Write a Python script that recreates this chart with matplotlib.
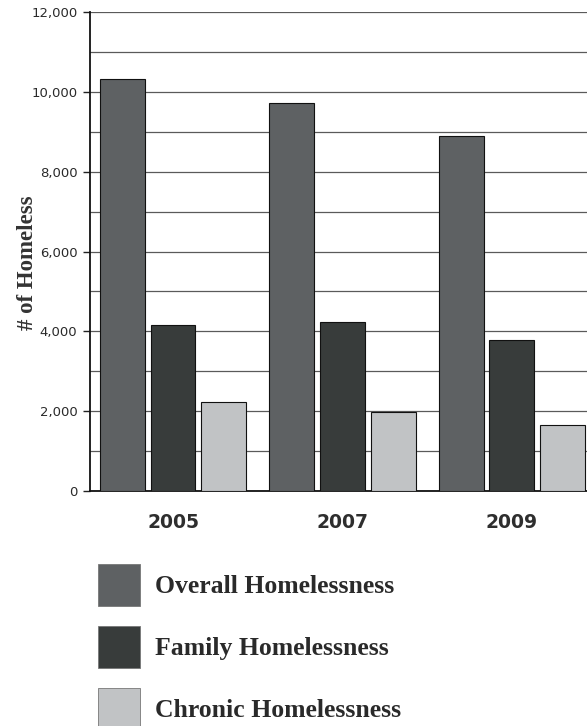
import matplotlib.pyplot as plt
import numpy as np
from matplotlib.patches import Patch

years = ['2005', '2007', '2009']
overall = [10330, 9730, 8900]
family = [4170, 4230, 3790]
chronic = [2220, 1970, 1650]

series_names = ['Overall Homelessness', 'Family Homelessness', 'Chronic Homelessness']
colors = ['#5e6163', '#383c3b', '#c1c3c5']

fig = plt.figure(figsize=(5.87, 7.26), dpi=100)
ax = fig.add_axes([90 / 587, 1 - 491 / 726, 497 / 587, 479 / 726])

x = np.arange(len(years))
w = 0.265
step = 0.30
for i, vals in enumerate([overall, family, chronic]):
    ax.bar(x + (i - 1) * step, vals, width=w, color=colors[i],
           edgecolor='#111111', linewidth=0.8, zorder=3)

ax.set_xlim(-0.49, 2.443)
ax.set_ylim(0, 12000)
ax.set_yticks(np.arange(0, 12001, 2000))
ax.set_yticklabels([f'{v:,}' for v in range(0, 12001, 2000)])
ax.set_yticks(np.arange(0, 12001, 1000), minor=True)
ax.yaxis.grid(True, which='both', color='#5a5a5a', linewidth=0.9, zorder=0)
ax.tick_params(axis='y', which='major', length=5, width=1, color='#222222',
               labelsize=9.5, labelcolor='#2a2a2a', pad=4)
ax.tick_params(axis='y', which='minor', length=0)

ax.set_xticks(x)
ax.set_xticklabels(years, fontsize=13.5, fontweight='bold', color='#2e2e2e')
ax.tick_params(axis='x', length=0, pad=16)

for s in ['top', 'right']:
    ax.spines[s].set_visible(False)
ax.spines['left'].set_color('#111111')
ax.spines['left'].set_linewidth(1.3)
ax.spines['bottom'].set_color('#111111')
ax.spines['bottom'].set_linewidth(1.3)

ax.set_ylabel('# of Homeless', fontsize=16.5, fontweight='bold',
              family='Liberation Serif', color='#333333')
ax.yaxis.set_label_coords(-0.105, 0.476)

handles = [Patch(facecolor=c, edgecolor='#777777', linewidth=0.6) for c in colors]
fig.legend(handles, series_names, loc='upper left',
           bbox_to_anchor=(98 / 587, 1 - 564 / 726), frameon=False,
           prop={'family': 'Liberation Serif', 'weight': 'bold', 'size': 18.5},
           handlelength=1.634, handleheight=2.137, handletextpad=0.58,
           labelspacing=0.78, borderpad=0, borderaxespad=0,
           labelcolor='#2a2a2a')

fig.savefig('out.png', dpi=100)
